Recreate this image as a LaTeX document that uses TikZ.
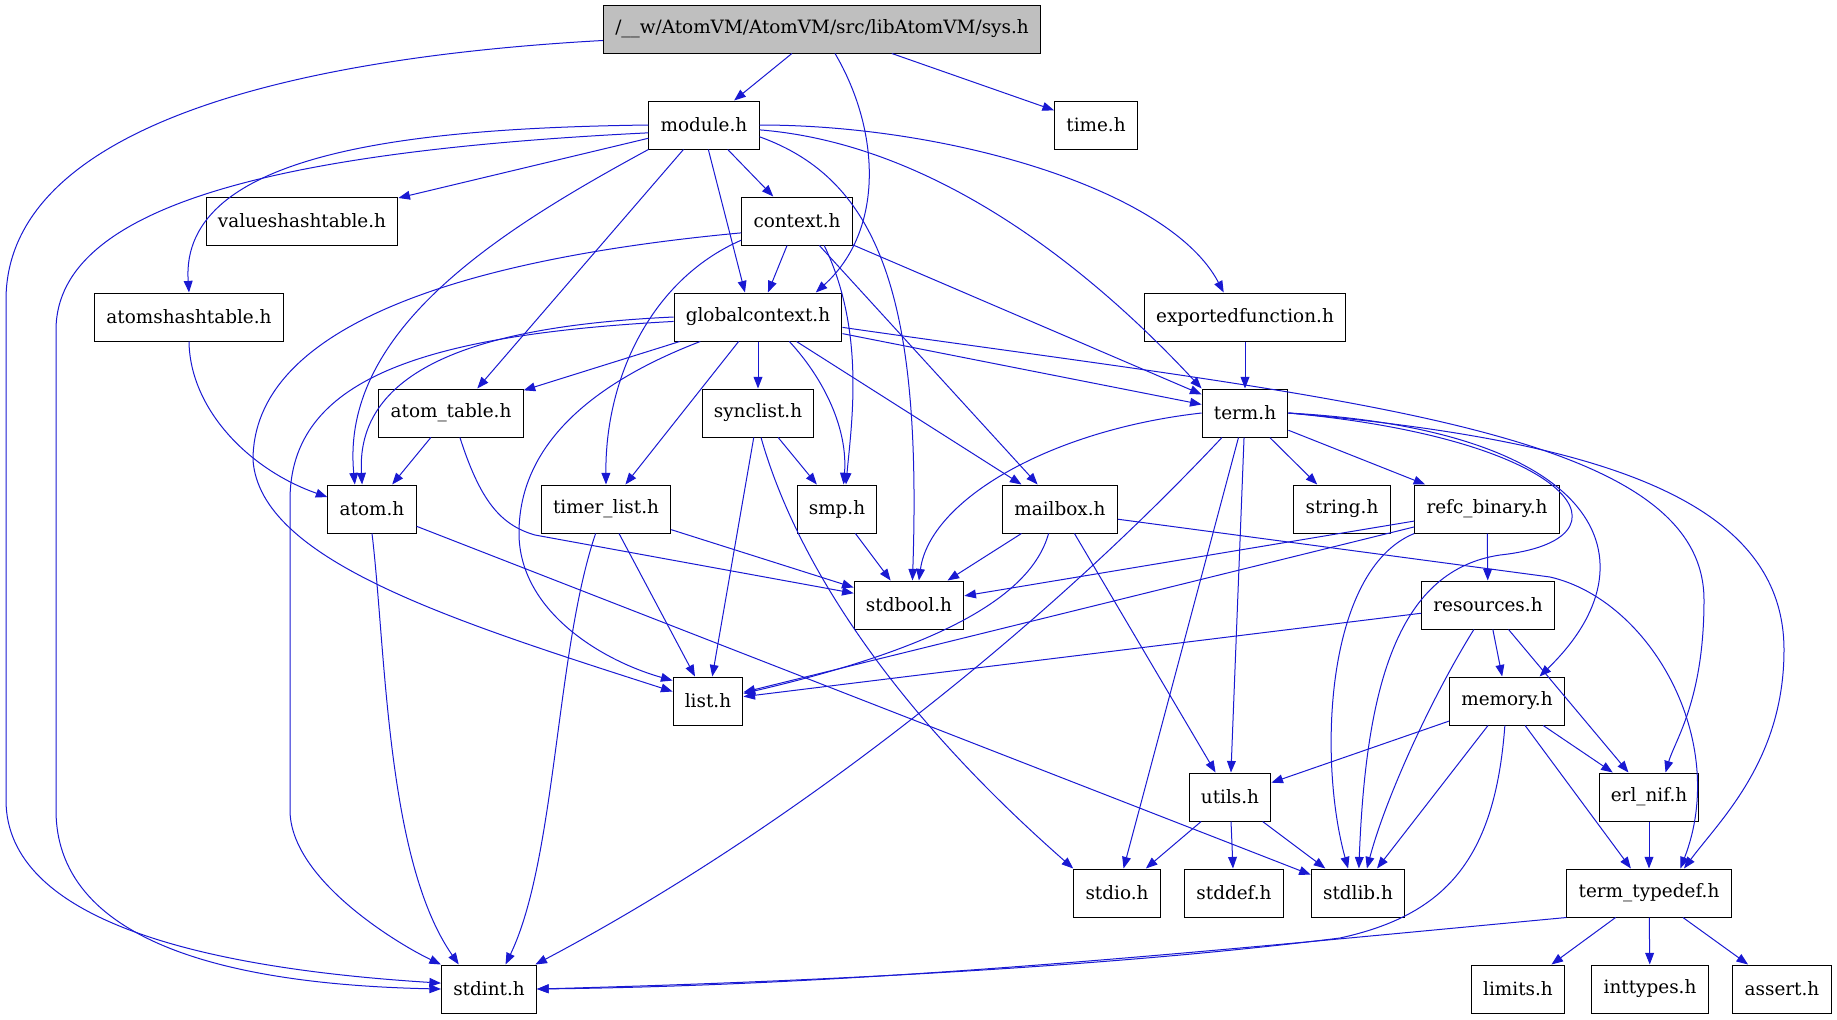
\documentclass[tikz,border=0pt]{standalone}
\usepackage{fontspec}
\setmainfont{DejaVu Serif}
\usetikzlibrary{arrows.meta}
\definecolor{edgeblue}{RGB}{25, 25, 210}
\definecolor{mainfill}{RGB}{191, 191, 191}

\begin{document}
\begin{tikzpicture}[
    x=0.5pt, y=-0.5pt,
    file/.style={draw=black, line width=0.5pt, rectangle, fill=white, minimum height=24pt, inner xsep=5.9pt, inner ysep=0pt, font=\fontsize{9.2}{11}\selectfont},
    mainfile/.style={file, fill=mainfill},
    arrow/.style={-{Triangle[length=5.8pt, width=4.4pt]}, edgeblue, line width=0.5pt}
]
\useasboundingbox (0,0) rectangle (1837,1019);

% Top: the file itself and its direct includes
\node[mainfile] (sys) at (822, 29) {/\_\_w/AtomVM/AtomVM/src/libAtomVM/sys.h};
\node[file] (module) at (704, 125) {module.h};
\node[file] (timeh) at (1096, 125) {time.h};

% Middle rows
\node[file] (valueshash) at (302, 221) {valueshashtable.h};
\node[file] (context) at (797, 221) {context.h};
\node[file] (atomshash) at (189, 317) {atomshashtable.h};
\node[file] (globalctx) at (758, 317) {globalcontext.h};
\node[file] (exportedfn) at (1245, 317) {exportedfunction.h};
\node[file] (atomtable) at (451, 413) {atom\_table.h};
\node[file] (synclist) at (758, 413) {synclist.h};
\node[file] (term) at (1245, 413) {term.h};
\node[file] (atom) at (372, 509) {atom.h};
\node[file] (timerlist) at (606, 509) {timer\_list.h};
\node[file] (smp) at (837, 509) {smp.h};
\node[file] (mailbox) at (1060, 509) {mailbox.h};
\node[file] (stringh) at (1342, 509) {string.h};
\node[file] (refcbin) at (1487, 509) {refc\_binary.h};
\node[file] (stdbool) at (909, 605) {stdbool.h};
\node[file] (resources) at (1488, 605) {resources.h};
\node[file] (list) at (708, 701) {list.h};
\node[file] (memory) at (1507, 701) {memory.h};
\node[file] (utils) at (1230, 797) {utils.h};
\node[file] (erlnif) at (1649, 797) {erl\_nif.h};

% Bottom rows
\node[file] (stdio) at (1117, 893) {stdio.h};
\node[file] (stddef) at (1234, 893) {stddef.h};
\node[file] (stdlib) at (1358, 893) {stdlib.h};
\node[file] (termtypedef) at (1649, 893) {term\_typedef.h};
\node[file] (stdint) at (489, 989) {stdint.h};
\node[file] (limits) at (1518, 989) {limits.h};
\node[file] (inttypes) at (1650, 989) {inttypes.h};
\node[file] (assert) at (1782, 989) {assert.h};

% sys.h
\draw[arrow] (sys) -- (module);
\draw[arrow] (sys) -- (timeh);
\draw[arrow] (sys.298) .. controls (880,130) and (885,230) .. (globalctx.23);
\draw[arrow] (sys.183) .. controls (250,60) and (6,140) .. (6,300) -- (6,800) .. controls (6,920) and (200,968) .. (stdint.173);

% module.h
\draw[arrow] (module.west) .. controls (420,128) and (179,150) .. (atomshash.north);
\draw[arrow] (module.188) .. controls (300,150) and (56,200) .. (56,330) -- (56,810) .. controls (56,950) and (250,985) .. (stdint.west);
\draw[arrow] (module) -- (valueshash);
\draw[arrow] (module.south west) .. controls (500,230) and (340,330) .. (atom.125);
\draw[arrow] (module.230) -- (atomtable.43);
\draw[arrow] (module.280) -- (globalctx.118);
\draw[arrow] (module) -- (context);
\draw[arrow] (module.348) .. controls (880,180) and (922,300) .. (stdbool.82);
\draw[arrow] (module.355) .. controls (950,145) and (1110,290) .. (term.north west);
\draw[arrow] (module.east) .. controls (950,125) and (1170,190) .. (exportedfn.131);

% context.h
\draw[arrow] (context.192) .. controls (450,260) and (253,330) .. (253,460) .. controls (260,560) and (450,620) .. (list.165);
\draw[arrow] (context.199) .. controls (650,280) and (605,380) .. (timerlist.north);
\draw[arrow] (context) -- (globalctx);
\draw[arrow] (context.318) .. controls (865,330) and (852,420) .. (smp.70);
\draw[arrow] (context) -- (mailbox);
\draw[arrow] (context) -- (term);

% globalcontext.h
\draw[arrow] (globalctx.west) .. controls (500,325) and (355,360) .. (atom.112);
\draw[arrow] (globalctx.183) .. controls (420,335) and (290,380) .. (290,500) -- (290,810) .. controls (290,880) and (400,945) .. (stdint.north west);
\draw[arrow] (globalctx) -- (atomtable);
\draw[arrow] (globalctx.203) .. controls (600,380) and (519,440) .. (519,533) .. controls (519,610) and (600,660) .. (list.150);
\draw[arrow] (globalctx) -- (timerlist);
\draw[arrow] (globalctx) -- (synclist);
\draw[arrow] (globalctx.322) .. controls (825,380) and (848,430) .. (smp.75);
\draw[arrow] (globalctx) -- (mailbox);
\draw[arrow] (globalctx) -- (term);
\draw[arrow] (globalctx.353) .. controls (1350,400) and (1704,430) .. (1704,600) .. controls (1704,700) and (1675,740) .. (erlnif.56);

% exportedfunction.h, atomshashtable.h, atom_table.h
\draw[arrow] (exportedfn) -- (term);
\draw[arrow] (atomshash.south) .. controls (190,410) and (250,470) .. (atom.165);
\draw[arrow] (atomtable) -- (atom);
\draw[arrow] (atomtable.290) .. controls (480,500) and (500,525) .. (535,535) -- (stdbool.168);

% synclist.h
\draw[arrow] (synclist) -- (smp);
\draw[arrow] (synclist) -- (list);
\draw[arrow] (synclist.277) .. controls (790,540) and (870,690) .. (stdio.north west);

% term.h
\draw[arrow] (term.west) .. controls (1050,430) and (930,500) .. (stdbool.68);
\draw[arrow] (term) .. controls (1025,647) and (773,839) .. (stdint);
\draw[arrow] (term) -- (stdio);
\draw[arrow] (term) -- (utils);
\draw[arrow] (term) -- (stringh);
\draw[arrow] (term) -- (refcbin);
\draw[arrow] (term.east) .. controls (1600,430) and (1660,560) .. (memory.37);
\draw[arrow] (term.east) .. controls (1580,440) and (1640,540) .. (1500,555) .. controls (1400,570) and (1366,680) .. (stdlib.88);
\draw[arrow] (term.east) .. controls (1600,440) and (1784,500) .. (1784,650) .. controls (1784,760) and (1720,820) .. (termtypedef.35);

% atom.h, timer_list.h, smp.h
\draw[arrow] (atom.south) .. controls (386,650) and (386,860) .. (stdint.141);
\draw[arrow] (atom) -- (stdlib);
\draw[arrow] (timerlist) -- (stdbool);
\draw[arrow] (timerlist) -- (list);
\draw[arrow] (timerlist.247) .. controls (556,650) and (556,860) .. (stdint.56);
\draw[arrow] (smp) -- (stdbool);

% mailbox.h
\draw[arrow] (mailbox) -- (stdbool);
\draw[arrow] (mailbox.245) .. controls (1030,600) and (930,650) .. (list.12);
\draw[arrow] (mailbox) -- (utils);
\draw[arrow] (mailbox.350) -- (1550,577) .. controls (1650,600) and (1730,740) .. (termtypedef.38);

% refc_binary.h, resources.h
\draw[arrow] (refcbin) -- (stdbool);
\draw[arrow] (refcbin) -- (list);
\draw[arrow] (refcbin.south west) .. controls (1325,570) and (1318,760) .. (stdlib.112);
\draw[arrow] (refcbin) -- (resources);
\draw[arrow] (resources) -- (list);
\draw[arrow] (resources) -- (memory);
\draw[arrow] (resources) -- (erlnif);
\draw[arrow] (resources.240) .. controls (1430,700) and (1385,800) .. (stdlib.70);

% memory.h
\draw[arrow] (memory) -- (utils);
\draw[arrow] (memory) -- (stdlib);
\draw[arrow] (memory) -- (erlnif);
\draw[arrow] (memory) -- (termtypedef);
\draw[arrow] (memory.265) .. controls (1495,860) and (1445,915) .. (1340,938) .. controls (1100,968) and (800,982) .. (stdint.east);

% utils.h, erl_nif.h, term_typedef.h
\draw[arrow] (utils) -- (stdio);
\draw[arrow] (utils) -- (stddef);
\draw[arrow] (utils) -- (stdlib);
\draw[arrow] (erlnif) -- (termtypedef);
\draw[arrow] (termtypedef) -- (limits);
\draw[arrow] (termtypedef) -- (inttypes);
\draw[arrow] (termtypedef) -- (assert);
\draw[arrow] (termtypedef.south west) .. controls (1220,950) and (880,985) .. (stdint.east);

\end{tikzpicture}
\end{document}
